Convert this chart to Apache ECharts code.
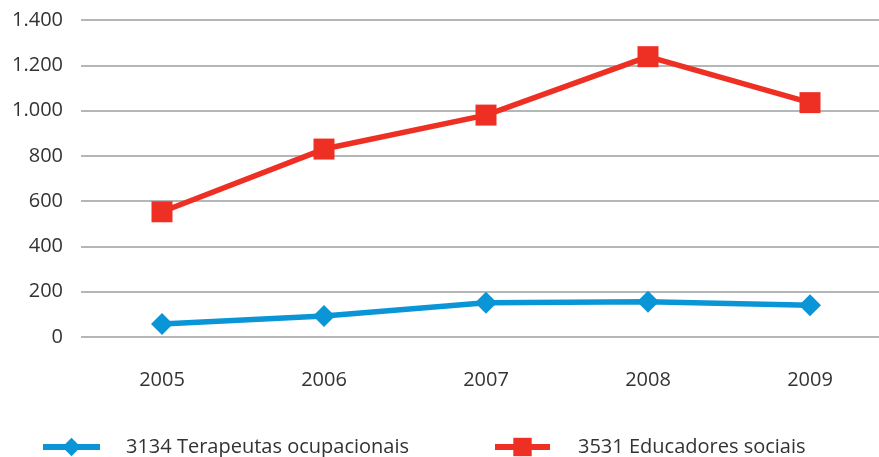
<!DOCTYPE html>
<html><head><meta charset="utf-8">
<script src="https://cdn.jsdelivr.net/npm/echarts@6/dist/echarts.min.js"></script>
<style>html,body{margin:0;padding:0;background:#fff;overflow:hidden;width:879px;height:457px}#c{width:891px;height:457px}</style>
</head><body><div id="c"></div>
<script>
const categories = ['2005','2006','2007','2008','2009'];
const terapeutas = [57, 93, 151, 156, 140];
const educadores = [553, 830, 980, 1238, 1035];
const seriesNames = ['3134 Terapeutas ocupacionais', '3531 Educadores sociais'];

const font = 'Open Sans';
const blue = '#0a96d6', red = '#ee3024';
const legendText = { fontFamily: font, fontSize: 20, color: '#333' };
const chart = echarts.init(document.getElementById('c'));
chart.setOption({
  animation: false,
  grid: { left: 81, top: 20, right: 0, height: 317 },
  legend: [
    { left: 40, top: 437, padding: 0, itemWidth: 57, itemHeight: 23,
      lineStyle: { width: 6 },
      textStyle: Object.assign({ padding: [0, 0, 0, 21] }, legendText),
      data: [seriesNames[0]] },
    { left: 492, top: 437, padding: 0, itemWidth: 55, itemHeight: 23,
      lineStyle: { width: 6 },
      textStyle: Object.assign({ padding: [0, 0, 0, 23] }, legendText),
      data: [seriesNames[1]] }
  ],
  xAxis: {
    type: 'category', data: categories, boundaryGap: true,
    axisLine: { show: false }, axisTick: { show: false },
    axisLabel: { fontFamily: font, fontSize: 20, color: '#333', margin: 33 }
  },
  yAxis: {
    type: 'value', min: 0, max: 1400, interval: 200,
    axisLine: { show: false }, axisTick: { show: false },
    splitLine: { lineStyle: { color: '#9a9fa1', width: 1.5 } },
    axisLabel: {
      fontFamily: font, fontSize: 20, color: '#333', margin: 18,
      formatter: v => String(v).replace(/\B(?=(\d{3})+(?!\d))/g, '.')
    }
  },
  series: [
    { name: seriesNames[0], type: 'line', data: terapeutas, symbol: 'diamond', symbolSize: 22,
      lineStyle: { color: blue, width: 5.5 }, itemStyle: { color: blue } },
    { name: seriesNames[1], type: 'line', data: educadores, symbol: 'rect', symbolSize: 21,
      lineStyle: { color: red, width: 5.5 }, itemStyle: { color: red } }
  ]
});
</script></body></html>
